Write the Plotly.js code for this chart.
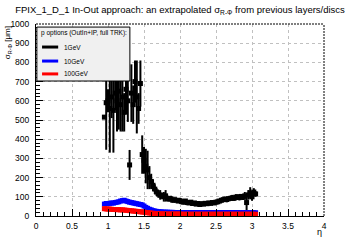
<!DOCTYPE html>
<html>
<head>
<meta charset="utf-8">
<script src="https://cdn.plot.ly/plotly-3.0.1.min.js"></script>
<style>
html,body{margin:0;padding:0;background:#fff;}
#chart{width:360px;height:240px;}
</style>
</head>
<body>
<div id="chart"></div>
<script>
// ---- data ----
var eta = [0.950,0.975,1.000,1.025,1.050,1.075,1.100,1.125,1.150,1.175,
           1.200,1.225,1.250,1.275,1.300,1.325,1.350,1.375,1.400,1.425,
           1.450,1.475,1.500,1.525,1.550,1.575,1.600,1.625,1.650,1.675,
           1.700,1.725,1.750,1.775,1.800,1.825,1.850,1.875,1.900,1.925,
           1.950,1.975,2.000,2.025,2.050,2.075,2.100,2.125,2.150,2.175,
           2.200,2.225,2.250,2.275,2.300,2.325,2.350,2.375,2.400,2.425,
           2.450,2.475,2.500,2.525,2.550,2.575,2.600,2.625,2.650,2.675,
           2.700,2.725,2.750,2.775,2.800,2.825,2.850,2.875,2.900,2.925,
           2.950,2.975,3.000,3.025,3.050];

var sigma1GeV = [515,590,600,560,620,550,640,600,650,580,
                 620,540,660,600,266,640,580,700,620,560,
                 690,320,290,260,240,200,180,160,140,125,
                 115,110,105,100,105,92,88,90,82,85,
                 82,78,80,75,72,78,70,68,72,65,
                 68,62,65,60,64,62,66,64,68,66,
                 70,68,72,74,78,82,85,88,86,90,
                 92,95,92,98,100,96,102,98,105,70,
                 110,120,100,125,115];
var err1GeV = [10,245,60,230,110,220,90,160,200,140,
               180,100,130,110,78,150,100,110,190,80,
               120,100,70,90,100,60,40,30,25,20,
               20,25,15,25,30,15,12,15,12,10,
               12,10,15,10,12,10,12,10,10,12,
               10,10,10,12,10,10,10,12,10,10,
               12,10,10,12,10,12,10,12,15,12,
               10,15,12,15,12,15,12,15,20,40,
               25,30,20,20,15];

var sigma10GeV = [62,65,64,66,68,67,70,72,74,78,
                  80,82,78,75,72,70,68,66,64,62,
                  60,58,52,45,40,35,32,28,26,24,
                  22,22,21,20,20,20,19,19,19,18,
                  18,18,18,18,18,18,18,18,18,18,
                  18,18,18,18,18,18,18,18,18,18,
                  18,18,18,18,18,18,18,18,18,18,
                  18,18,18,18,18,17,17,17,17,17,
                  17,17,17,17,17];
var err10GeV = [9,9,9,9,9,9,9,9,9,9,
                9,9,9,9,9,9,9,9,9,9,
                9,9,8,8,7,6,6,5,5,5,
                4,4,4,4,4,4,4,4,4,4,
                4,4,4,4,4,4,4,4,4,4,
                4,4,4,4,4,4,4,4,4,4,
                4,4,4,4,4,4,4,4,4,4,
                4,4,4,4,4,4,4,4,4,4,
                4,4,4,4,4];

var sigma100GeV = [38,37,36,36,35,34,34,33,33,32,
                   32,31,30,29,28,27,26,25,24,23,
                   22,21,20,18,17,16,15,14,13,12,
                   12,11,11,11,10,10,10,10,10,10,
                   10,10,10,9,9,9,9,9,9,9,
                   9,9,9,9,9,9,9,9,9,9,
                   9,9,9,9,9,9,9,9,9,9,
                   9,9,9,9,9,9,9,9,9,9,
                   9,9,9,9,9];
var err100GeV = [8,8,8,8,8,8,8,8,8,8,
                 8,8,8,8,8,8,8,8,7,7,
                 7,7,7,6,6,6,6,6,6,6,
                 6,6,6,6,6,6,6,6,6,6,
                 6,6,6,6,6,6,6,6,6,6,
                 6,6,6,6,6,6,6,6,6,6,
                 6,6,6,6,6,6,6,6,6,6,
                 6,6,6,6,6,6,6,6,6,6,
                 6,6,6,6,6];

var seriesNames = ['1GeV','10GeV','100GeV'];
var seriesColors = ['#000000','#0000ff','#ff0000'];
var xTickVals = [0,0.5,1,1.5,2,2.5,3,3.5,4];
var xTickText = ['0','0.5','1','1.5','2','2.5','3','3.5','4'];
var yTickVals = [0,100,200,300,400,500,600,700,800,900,1000];
var yTickText = ['0','100','200','300','400','500','600','700','800','900','1000'];
var titleText = 'FPIX_1_D_1 In-Out approach: an extrapolated \u03c3<sub>R-\u03a6</sub> from previous layers/discs';
var legendHeader = 'p options (OutIn+IP, full TRK):';

var FONT = 'Liberation Sans, Arial, Helvetica, sans-serif';

function mk(y, e, i, sz){
  return {
    x: eta, y: y, type: 'scatter', mode: 'markers', name: seriesNames[i],
    showlegend: false,
    marker: {symbol: 'square', size: sz, color: seriesColors[i]},
    error_y: {type: 'data', array: e, visible: true, color: seriesColors[i], thickness: 2, width: 0}
  };
}
var traces = [mk(sigma1GeV, err1GeV, 0, 5), mk(sigma10GeV, err10GeV, 1, 5), mk(sigma100GeV, err100GeV, 2, 5)];

// Legend (ROOT-style box) drawn in paper coordinates
var L = {x0: 0.003, x1: 0.326, y0: 0.703, y1: 0.984};
var entryY = [0.880, 0.807, 0.740];
var shapes = [
  {type:'rect', xref:'paper', yref:'paper', x0:L.x0, x1:L.x1, y0:L.y0, y1:L.y1,
   fillcolor:'#f0f0f0', line:{color:'#000', width:1}, layer:'above'},
  {type:'line', xref:'paper', yref:'paper', x0:0, x1:1, y0:1, y1:1, line:{color:'#000', width:1, dash:'2px,1px'}},
  {type:'line', xref:'paper', yref:'paper', x0:1, x1:1, y0:0, y1:1, line:{color:'#000', width:1, dash:'2px,1px'}}
];
var annotations = [
  {xref:'paper', yref:'paper', x:0.012, y:0.954, xanchor:'left', yanchor:'middle', showarrow:false,
   text: legendHeader, font:{family:FONT, size:6.5, color:'#000'}},
  {xref:'paper', yref:'paper', x:1, y:-0.083, xanchor:'right', yanchor:'middle', showarrow:false,
   text:'\u03b7', font:{family:FONT, size:9, color:'#000'}},
  {xref:'paper', yref:'paper', x:-0.098, y:1.0, xanchor:'center', yanchor:'top', showarrow:false, textangle:-90,
   text:'\u03c3<sub>R-\u03a6</sub> [\u03bcm]', font:{family:FONT, size:8, color:'#000'}}
];
for (var i = 0; i < 3; i++){
  shapes.push({type:'line', xref:'paper', yref:'paper', x0:0.021, x1:0.077, y0:entryY[i], y1:entryY[i],
               line:{color:seriesColors[i], width:3}, layer:'above'});
  annotations.push({xref:'paper', yref:'paper', x:0.09, y:entryY[i], xanchor:'left', yanchor:'middle',
                    showarrow:false, text:seriesNames[i], font:{family:FONT, size:6.5, color:'#000'}});
}

var layout = {
  width: 360, height: 240,
  margin: {l:36, r:36, t:24, b:24, pad:0},
  paper_bgcolor:'#fff', plot_bgcolor:'#fff',
  showlegend: false,
  title: {text: titleText, x:0.5, xanchor:'center', y:0.958, yanchor:'middle', yref:'container',
          font:{family:FONT, size:9.5, color:'#000'}},
  font: {family: FONT, color:'#000'},
  xaxis: {range:[0,4], tickmode:'array', tickvals:xTickVals, ticktext:xTickText,
          ticks:'inside', ticklen:7, tickcolor:'#000', tickwidth:1,
          showline:true, linecolor:'#000', linewidth:1, mirror:false, zeroline:false,
          showgrid:true, gridcolor:'#c0c0c0', griddash:'dot', gridwidth:1,
          minor:{dtick:0.1, ticks:'inside', ticklen:4, tickcolor:'#000', showgrid:false},
          tickfont:{family:FONT, size:8.5, color:'#000'}, ticklabelstandoff:2},
  yaxis: {range:[0,1000], tickmode:'array', tickvals:yTickVals, ticktext:yTickText,
          ticks:'inside', ticklen:7, tickcolor:'#000', tickwidth:1,
          showline:true, linecolor:'#000', linewidth:1, mirror:false, zeroline:false,
          showgrid:true, gridcolor:'#c0c0c0', griddash:'dot', gridwidth:1,
          minor:{dtick:20, ticks:'inside', ticklen:4, tickcolor:'#000', showgrid:false},
          tickfont:{family:FONT, size:8.5, color:'#000'}, ticklabelstandoff:4},
  shapes: shapes,
  annotations: annotations
};

Plotly.newPlot('chart', traces, layout, {displayModeBar:false, staticPlot:true});
</script>
</body>
</html>
